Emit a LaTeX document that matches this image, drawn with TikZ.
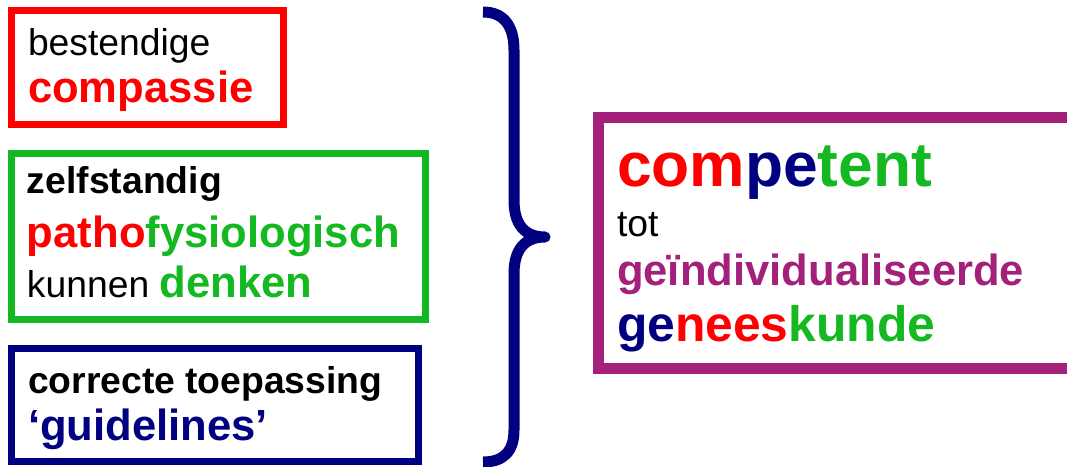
\documentclass[tikz,border=0pt]{standalone}
\usepackage{fontspec}
\setmainfont{Liberation Sans}
\definecolor{cred}{HTML}{FF0000}
\definecolor{cgreen}{HTML}{14B820}
\definecolor{cnavy}{HTML}{000080}
\definecolor{cpurple}{HTML}{A3217A}
\newcommand{\regtxt}{\fontsize{37.3}{44}\selectfont}
\newcommand{\keytxt}{\fontsize{43.6}{50}\selectfont\bfseries}
\newcommand{\midtxt}{\fontsize{49.8}{56}\selectfont\bfseries}
\newcommand{\bigtxt}{\fontsize{62.3}{70}\selectfont\bfseries}
\tikzset{
  frame/.style={draw=#1, line width=7pt, inner sep=0pt, outer sep=0pt, fill=none},
  txt/.style={inner sep=0pt, outer sep=0pt, anchor=base west},
}
\begin{document}
\begin{tikzpicture}[x=1pt,y=-1pt]
\useasboundingbox (0,0) rectangle (1067,466);
\clip (0,0) rectangle (1067,466);
% left column of boxes
\node[frame=cred, minimum width=272pt, minimum height=114pt] (boxA) at (147.5,67.5) {};
\node[frame=cgreen, minimum width=414pt, minimum height=166pt] (boxB) at (218.5,236.5) {};
\node[frame=cnavy, minimum width=407pt, minimum height=113pt] (boxC) at (215,405) {};
% result box, running off the right edge
\node[frame=cpurple, line width=11pt, minimum width=482pt, minimum height=251pt] (boxD) at (839.5,243) {};

% texts
\node[txt] (a1) at (28,55) {\regtxt bestendige};
\node[txt] (a2) at (28,102) {\keytxt\color{cred}compassie};

\node[txt] (b1) at (27,193) {\regtxt\bfseries zelfstandig};
\node[txt] (b2) at (27,247) {\keytxt{\color{cred}patho}{\color{cgreen}fysiologisch}};
\node[txt] (b3) at (27,297) {\regtxt kunnen {\keytxt\color{cgreen}denken}};

\node[txt] (c1) at (28,393) {\regtxt\bfseries correcte toepassing};
\node[txt] (c2) at (28,440) {\keytxt\color{cnavy}‘guidelines’};

\node[txt] (d1) at (617,186) {\bigtxt{\color{cred}com}{\color{cnavy}pe}{\color{cgreen}tent}};
\node[txt] (d2) at (617,236) {\regtxt tot};
\node[txt] (d3) at (617,285) {\keytxt\color{cpurple}geïndividualiseerde};
\node[txt] (d4) at (617,341) {\midtxt{\color{cnavy}ge}{\color{cred}nees}{\color{cgreen}kunde}};

% curly brace joining the three boxes
\draw[cnavy, line width=11pt, line join=round]
  (483,12) .. controls (503,12) and (514,25) .. (514,50)
  -- (514,200) .. controls (514,225) and (525,237) .. (545,237)
  .. controls (525,237) and (514,249) .. (514,274)
  -- (514,430) .. controls (514,452) and (503,462) .. (483,462);
\end{tikzpicture}
\end{document}
